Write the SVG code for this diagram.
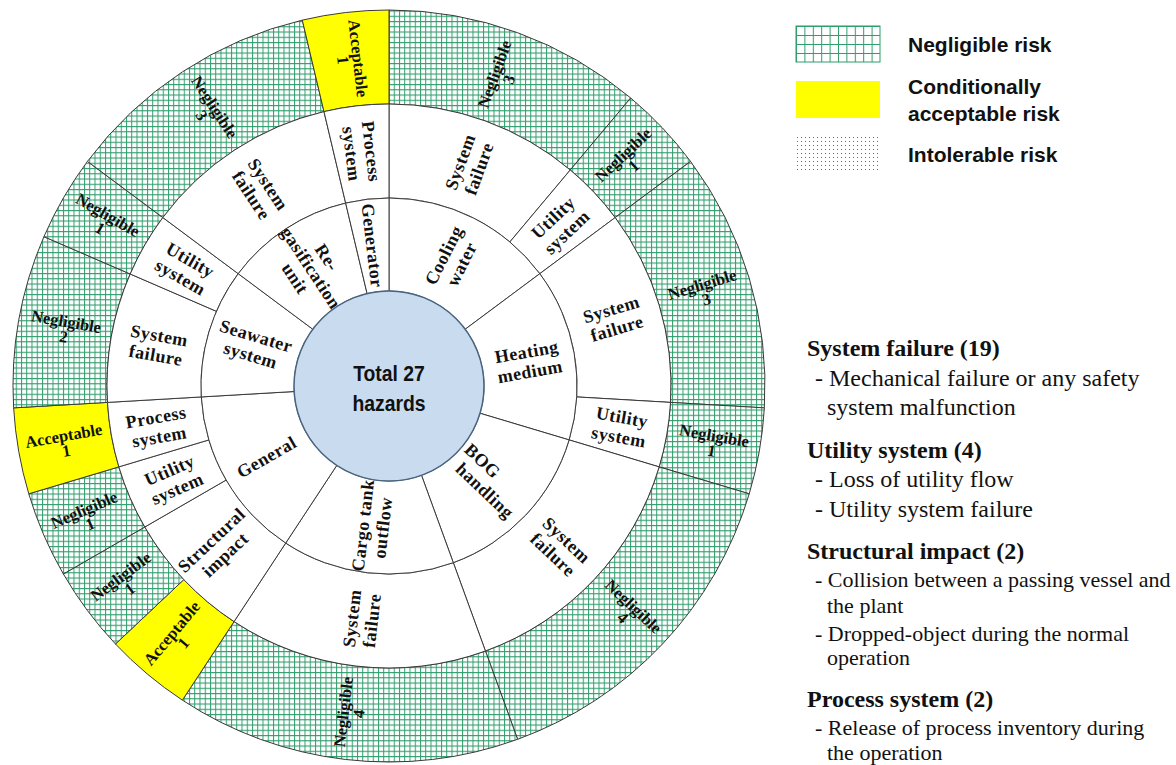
<svg xmlns="http://www.w3.org/2000/svg" width="1176" height="765" viewBox="0 0 1176 765">
<defs>
<pattern id="grid" width="5.25" height="5.25" patternUnits="userSpaceOnUse">
<rect width="5.25" height="5.25" fill="#ffffff"/>
<path d="M0 0.5H5.25M0.5 0V5.25" stroke="#2f9d6c" stroke-width="1" fill="none"/>
</pattern>
<pattern id="gridL" x="796" y="26" width="8.4" height="9" patternUnits="userSpaceOnUse">
<rect width="8.4" height="9" fill="#ffffff"/>
<path d="M0 0.5H8.4M0.5 0V9" stroke="#2f9d6c" stroke-width="1" fill="none"/>
</pattern>
<pattern id="dots" x="796" y="136" width="4" height="4" patternUnits="userSpaceOnUse">
<rect width="4" height="4" fill="#ffffff"/>
<rect x="1" y="1" width="1" height="1" fill="#f03030"/>
</pattern>
</defs>
<style>
.seg{stroke:#3a3a3a;stroke-width:1;stroke-linejoin:round}
.neg{fill:url(#grid)}
.acc{fill:#ffff00}
.wht{fill:#ffffff}
.lbl{font-family:"Liberation Serif","Times New Roman",serif;font-weight:bold;font-size:18px;letter-spacing:0.5px;fill:#111;text-anchor:middle}
.olbl{font-family:"Liberation Serif","Times New Roman",serif;font-weight:bold;font-size:16.5px;fill:#111;text-anchor:middle}
.ctr{font-family:"Liberation Sans",Arial,sans-serif;font-weight:bold;font-size:22px;fill:#111;text-anchor:middle}
.leg{font-family:"Liberation Sans",Arial,sans-serif;font-weight:bold;font-size:21px;fill:#111}
.hd{font-family:"Liberation Serif","Times New Roman",serif;font-weight:bold;font-size:24px;fill:#111}
.tx{font-family:"Liberation Serif","Times New Roman",serif;font-size:24px;fill:#111}
.tx2{font-family:"Liberation Serif","Times New Roman",serif;font-size:22px;fill:#111}
</style>
<rect width="1176" height="765" fill="#ffffff"/>

<g id="outer-ring">
<g id="o-neg3a"><path class="seg neg" d="M389,10 A376,376 0 0 1 630.69,97.97 L570.27,169.98 A282,282 0 0 0 389,104 Z"/>
<text class="olbl" transform="translate(501.5,76.8) rotate(-70)"><tspan x="0" y="-1.9">Negligible</tspan><tspan x="0" y="13.4">3</tspan></text></g>
<g id="o-neg1a"><path class="seg neg" d="M630.69,97.97 A376,376 0 0 1 690.55,161.4 L615.16,217.55 A282,282 0 0 0 570.27,169.98 Z"/>
<text class="olbl" transform="translate(628.3,160.2) rotate(-43.33)"><tspan x="0" y="-1.9">Negligible</tspan><tspan x="0" y="13.4">1</tspan></text></g>
<g id="o-neg3b"><path class="seg neg" d="M690.55,161.4 A376,376 0 0 1 764.36,407.86 L670.52,402.4 A282,282 0 0 0 615.16,217.55 Z"/>
<text class="olbl" transform="translate(704.2,291.6) rotate(-16.67)"><tspan x="0" y="-1.9">Negligible</tspan><tspan x="0" y="13.4">3</tspan></text></g>
<g id="o-neg1b"><path class="seg neg" d="M764.36,407.86 A376,376 0 0 1 749.22,493.84 L659.16,466.88 A282,282 0 0 0 670.52,402.4 Z"/>
<text class="olbl" transform="translate(713,443.1) rotate(10)"><tspan x="0" y="-1.9">Negligible</tspan><tspan x="0" y="13.4">1</tspan></text></g>
<g id="o-neg4a"><path class="seg neg" d="M749.22,493.84 A376,376 0 0 1 517.6,739.32 L485.45,650.99 A282,282 0 0 0 659.16,466.88 Z"/>
<text class="olbl" transform="translate(628.3,611.8) rotate(43.33)"><tspan x="0" y="-1.9">Negligible</tspan><tspan x="0" y="13.4">4</tspan></text></g>
<g id="o-neg4b"><path class="seg neg" d="M517.6,739.32 A376,376 0 0 1 182.38,700.14 L234.04,621.61 A282,282 0 0 0 485.45,650.99 Z"/>
<text class="olbl" transform="translate(350.8,712.8) rotate(-83.33)"><tspan x="0" y="-1.9">Negligible</tspan><tspan x="0" y="13.4">4</tspan></text></g>
<g id="o-acc1a"><path class="seg acc" d="M182.38,700.14 A376,376 0 0 1 115.51,644.03 L183.88,579.52 A282,282 0 0 0 234.04,621.61 Z"/>
<text class="olbl" transform="translate(177.5,638) rotate(-50)"><tspan x="0" y="-1.9">Acceptable</tspan><tspan x="0" y="13.4">1</tspan></text></g>
<g id="o-neg1c"><path class="seg neg" d="M115.51,644.03 A376,376 0 0 1 63.37,574 L144.78,527 A282,282 0 0 0 183.88,579.52 Z"/>
<text class="olbl" transform="translate(125.1,582.5) rotate(-36.67)"><tspan x="0" y="-1.9">Negligible</tspan><tspan x="0" y="13.4">1</tspan></text></g>
<g id="o-neg1d"><path class="seg neg" d="M63.37,574 A376,376 0 0 1 28.78,493.84 L118.84,466.88 A282,282 0 0 0 144.78,527 Z"/>
<text class="olbl" transform="translate(87.1,516.7) rotate(-23.33)"><tspan x="0" y="-1.9">Negligible</tspan><tspan x="0" y="13.4">1</tspan></text></g>
<g id="o-acc1b"><path class="seg acc" d="M28.78,493.84 A376,376 0 0 1 13.64,407.86 L107.48,402.4 A282,282 0 0 0 118.84,466.88 Z"/>
<text class="olbl" transform="translate(65,443.1) rotate(-10)"><tspan x="0" y="-1.9">Acceptable</tspan><tspan x="0" y="13.4">1</tspan></text></g>
<g id="o-neg2"><path class="seg neg" d="M13.64,407.86 A376,376 0 0 1 43.93,236.67 L130.19,274 A282,282 0 0 0 107.48,402.4 Z"/>
<text class="olbl" transform="translate(65,328.9) rotate(10)"><tspan x="0" y="-1.9">Negligible</tspan><tspan x="0" y="13.4">2</tspan></text></g>
<g id="o-neg1e"><path class="seg neg" d="M43.93,236.67 A376,376 0 0 1 87.45,161.4 L162.84,217.55 A282,282 0 0 0 130.19,274 Z"/>
<text class="olbl" transform="translate(104.1,221.5) rotate(30)"><tspan x="0" y="-1.9">Negligible</tspan><tspan x="0" y="13.4">1</tspan></text></g>
<g id="o-neg3c"><path class="seg neg" d="M87.45,161.4 A376,376 0 0 1 302.29,20.14 L323.97,111.6 A282,282 0 0 0 162.84,217.55 Z"/>
<text class="olbl" transform="translate(208.2,111.1) rotate(56.67)"><tspan x="0" y="-1.9">Negligible</tspan><tspan x="0" y="13.4">3</tspan></text></g>
<g id="o-acc1c"><path class="seg acc" d="M302.29,20.14 A376,376 0 0 1 389,10 L389,104 A282,282 0 0 0 323.97,111.6 Z"/>
<text class="olbl" transform="translate(350.8,59.2) rotate(83.33)"><tspan x="0" y="-1.9">Acceptable</tspan><tspan x="0" y="13.4">1</tspan></text></g>
</g>

<g id="cause-ring">
<g id="c-sf1"><path class="seg wht" d="M389,104 A282,282 0 0 1 570.27,169.98 L509.84,241.98 A188,188 0 0 0 389,198 Z"/>
<text class="lbl" transform="translate(469.4,165.2) rotate(-70)"><tspan x="0" y="-3.7">System</tspan><tspan x="0" y="16.3">failure</tspan></text></g>
<g id="c-us1"><path class="seg wht" d="M570.27,169.98 A282,282 0 0 1 615.16,217.55 L539.78,273.7 A188,188 0 0 0 509.84,241.98 Z"/>
<text class="lbl" transform="translate(559.9,224.7) rotate(-43.33)"><tspan x="0" y="-3.7">Utility</tspan><tspan x="0" y="16.3">system</tspan></text></g>
<g id="c-sf2"><path class="seg wht" d="M615.16,217.55 A282,282 0 0 1 670.52,402.4 L576.68,396.93 A188,188 0 0 0 539.78,273.7 Z"/>
<text class="lbl" transform="translate(614.1,318.6) rotate(-16.67)"><tspan x="0" y="-3.7">System</tspan><tspan x="0" y="16.3">failure</tspan></text></g>
<g id="c-us2"><path class="seg wht" d="M670.52,402.4 A282,282 0 0 1 659.16,466.88 L569.11,439.92 A188,188 0 0 0 576.68,396.93 Z"/>
<text class="lbl" transform="translate(620.4,426.8) rotate(10)"><tspan x="0" y="-3.7">Utility</tspan><tspan x="0" y="16.3">system</tspan></text></g>
<g id="c-sf3"><path class="seg wht" d="M659.16,466.88 A282,282 0 0 1 485.45,650.99 L453.3,562.66 A188,188 0 0 0 569.11,439.92 Z"/>
<text class="lbl" transform="translate(559.9,547.3) rotate(43.33)"><tspan x="0" y="-3.7">System</tspan><tspan x="0" y="16.3">failure</tspan></text></g>
<g id="c-sf4"><path class="seg wht" d="M485.45,650.99 A282,282 0 0 1 234.04,621.61 L285.69,543.07 A188,188 0 0 0 453.3,562.66 Z"/>
<text class="lbl" transform="translate(361.7,619.4) rotate(-83.33)"><tspan x="0" y="-3.7">System</tspan><tspan x="0" y="16.3">failure</tspan></text></g>
<g id="c-si"><path class="seg wht" d="M234.04,621.61 A282,282 0 0 1 144.78,527 L226.19,480 A188,188 0 0 0 285.69,543.07 Z"/>
<text class="lbl" transform="translate(218.1,547.3) rotate(-43.33)"><tspan x="0" y="-3.7">Structural</tspan><tspan x="0" y="16.3">impact</tspan></text></g>
<g id="c-us3"><path class="seg wht" d="M144.78,527 A282,282 0 0 1 118.84,466.88 L208.89,439.92 A188,188 0 0 0 226.19,480 Z"/>
<text class="lbl" transform="translate(173.3,479.3) rotate(-23.33)"><tspan x="0" y="-3.7">Utility</tspan><tspan x="0" y="16.3">system</tspan></text></g>
<g id="c-ps1"><path class="seg wht" d="M118.84,466.88 A282,282 0 0 1 107.48,402.4 L201.32,396.93 A188,188 0 0 0 208.89,439.92 Z"/>
<text class="lbl" transform="translate(157.6,426.8) rotate(-10)"><tspan x="0" y="-3.7">Process</tspan><tspan x="0" y="16.3">system</tspan></text></g>
<g id="c-sf5"><path class="seg wht" d="M107.48,402.4 A282,282 0 0 1 130.19,274 L216.46,311.34 A188,188 0 0 0 201.32,396.93 Z"/>
<text class="lbl" transform="translate(157.6,345.2) rotate(10)"><tspan x="0" y="-3.7">System</tspan><tspan x="0" y="16.3">failure</tspan></text></g>
<g id="c-us4"><path class="seg wht" d="M130.19,274 A282,282 0 0 1 162.84,217.55 L238.22,273.7 A188,188 0 0 0 216.46,311.34 Z"/>
<text class="lbl" transform="translate(185.5,268.5) rotate(30)"><tspan x="0" y="-3.7">Utility</tspan><tspan x="0" y="16.3">system</tspan></text></g>
<g id="c-sf6"><path class="seg wht" d="M162.84,217.55 A282,282 0 0 1 323.97,111.6 L345.65,203.07 A188,188 0 0 0 238.22,273.7 Z"/>
<text class="lbl" transform="translate(259.9,189.7) rotate(56.67)"><tspan x="0" y="-3.7">System</tspan><tspan x="0" y="16.3">failure</tspan></text></g>
<g id="c-ps2"><path class="seg wht" d="M323.97,111.6 A282,282 0 0 1 389,104 L389,198 A188,188 0 0 0 345.65,203.07 Z"/>
<text class="lbl" transform="translate(361.7,152.6) rotate(83.33)"><tspan x="0" y="-3.7">Process</tspan><tspan x="0" y="16.3">system</tspan></text></g>
</g>

<g id="system-ring">
<g id="s-cooling"><path class="seg wht" d="M389,198 A188,188 0 0 1 539.78,273.7 L465.19,329.25 A95,95 0 0 0 389,291 Z"/>
<text class="lbl" transform="translate(452.5,259.6) rotate(-63.33)"><tspan x="0" y="-3.7">Cooling</tspan><tspan x="0" y="16.3">water</tspan></text></g>
<g id="s-heating"><path class="seg wht" d="M539.78,273.7 A188,188 0 0 1 569.11,439.92 L480.01,413.25 A95,95 0 0 0 465.19,329.25 Z"/>
<text class="lbl" transform="translate(528.3,361.4) rotate(-10)"><tspan x="0" y="-3.7">Heating</tspan><tspan x="0" y="16.3">medium</tspan></text></g>
<g id="s-bog"><path class="seg wht" d="M569.11,439.92 A188,188 0 0 1 453.3,562.66 L421.49,475.27 A95,95 0 0 0 480.01,413.25 Z"/>
<text class="lbl" transform="translate(491.9,483.1) rotate(43.33)"><tspan x="-22" y="-3.7">BOG</tspan><tspan x="0" y="16.3">handling</tspan></text></g>
<g id="s-cargo"><path class="seg wht" d="M453.3,562.66 A188,188 0 0 1 285.69,543.07 L336.8,465.37 A95,95 0 0 0 421.49,475.27 Z"/>
<text class="lbl" transform="translate(372.6,526.5) rotate(-83.33)"><tspan x="0" y="-3.7">Cargo tank</tspan><tspan x="0" y="16.3">outflow</tspan></text></g>
<g id="s-general"><path class="seg wht" d="M285.69,543.07 A188,188 0 0 1 201.32,396.93 L294.16,391.52 A95,95 0 0 0 336.8,465.37 Z"/>
<text class="lbl" transform="translate(266.5,456.8) rotate(-30)"><tspan x="0" y="6.3">General</tspan></text></g>
<g id="s-seawater"><path class="seg wht" d="M201.32,396.93 A188,188 0 0 1 238.22,273.7 L312.81,329.25 A95,95 0 0 0 294.16,391.52 Z"/>
<text class="lbl" transform="translate(253.4,345.4) rotate(16.67)"><tspan x="0" y="-3.7">Seawater</tspan><tspan x="0" y="16.3">system</tspan></text></g>
<g id="s-regas"><path class="seg wht" d="M238.22,273.7 A188,188 0 0 1 345.65,203.07 L367.09,293.56 A95,95 0 0 0 312.81,329.25 Z"/>
<text class="lbl" transform="translate(311.2,267.8) rotate(56.67)"><tspan x="0" y="-12.7">Re-</tspan><tspan x="0" y="6.3">gasification</tspan><tspan x="0" y="25.3">unit</tspan></text></g>
<g id="s-generator"><path class="seg wht" d="M345.65,203.07 A188,188 0 0 1 389,198 L389,291 A95,95 0 0 0 367.09,293.56 Z"/>
<text class="lbl" transform="translate(372.6,245.5) rotate(83.33)"><tspan x="0" y="6.3">Generator</tspan></text></g>
</g>

<g id="center">
<circle cx="389" cy="386" r="95" fill="#c9dcef" stroke="#4a6480" stroke-width="1.5"/>
<text class="ctr" transform="translate(389,0) scale(0.88,1)"><tspan x="0" y="381.5">Total 27</tspan><tspan x="0" y="411">hazards</tspan></text>
</g>

<g id="legend">
<g id="legend-negligible"><rect x="796" y="26" width="84" height="36" fill="url(#gridL)" stroke="#2f9d6c" stroke-width="1"/>
<text class="leg" x="908" y="52">Negligible risk</text></g>
<g id="legend-acceptable"><rect x="796" y="81" width="84" height="37" fill="#ffff00"/>
<text class="leg"><tspan x="908" y="94">Conditionally</tspan><tspan x="908" y="121">acceptable risk</tspan></text></g>
<g id="legend-intolerable"><rect x="796" y="136" width="84" height="36" fill="url(#dots)"/>
<text class="leg" x="908" y="162">Intolerable risk</text></g>
</g>

<g id="descriptions">
<text class="hd" x="807" y="356">System failure (19)</text>
<text class="tx" x="815" y="385.7">- Mechanical failure or any safety</text>
<text class="tx" x="827" y="415">system malfunction</text>
<text class="hd" x="807" y="457.7">Utility system (4)</text>
<text class="tx" x="815" y="486.7">- Loss of utility flow</text>
<text class="tx" x="815" y="516.5">- Utility system failure</text>
<text class="hd" x="807" y="559.3">Structural impact (2)</text>
<text class="tx2" x="815" y="586.7">- Collision between a passing vessel and</text>
<text class="tx2" x="827" y="612.7">the plant</text>
<text class="tx2" x="815" y="641">- Dropped-object during the normal</text>
<text class="tx2" x="827" y="665">operation</text>
<text class="hd" x="807" y="706.7">Process system (2)</text>
<text class="tx2" x="815" y="735">- Release of process inventory during</text>
<text class="tx2" x="827" y="760">the operation</text>
</g>
</svg>
